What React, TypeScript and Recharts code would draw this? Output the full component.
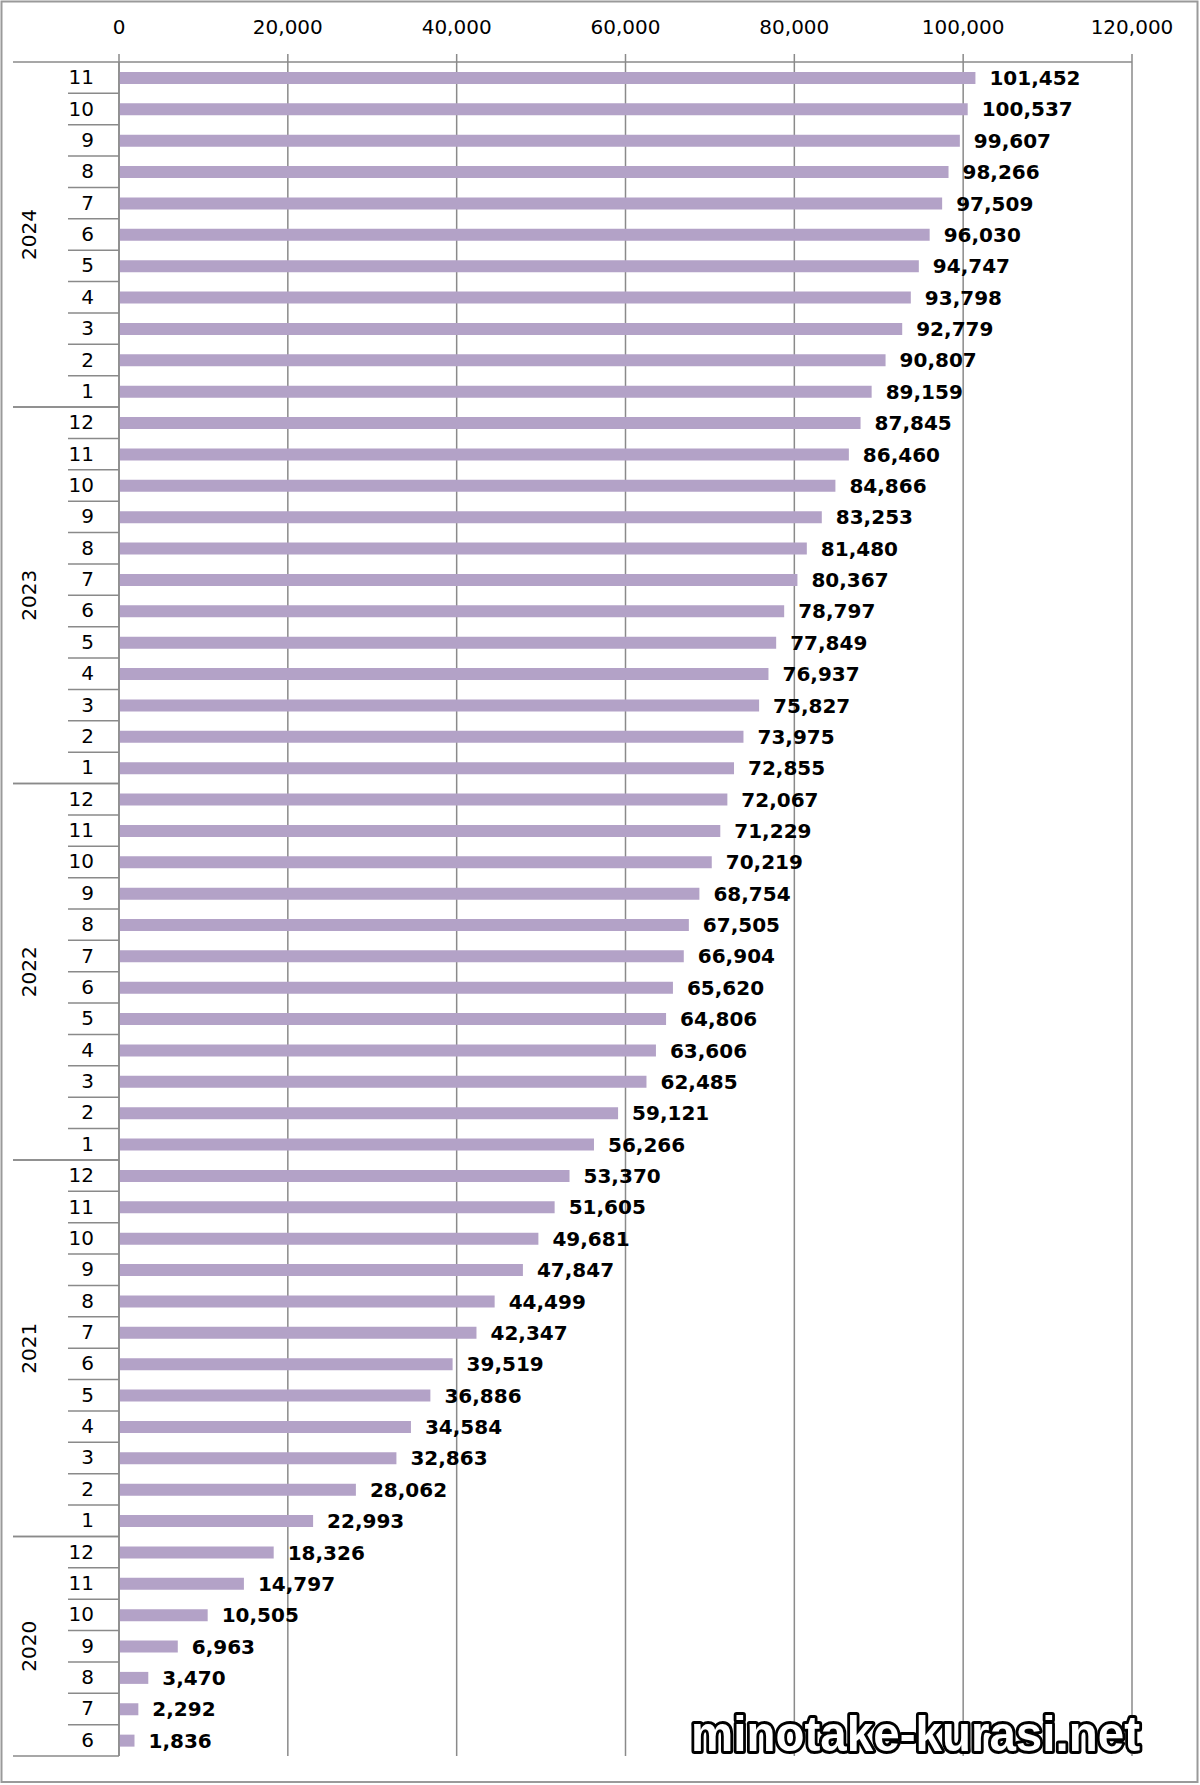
import React from 'react';
import { BarChart, Bar, XAxis, YAxis, CartesianGrid, LabelList } from 'recharts';

// ---- data ----
const years = [2020, 2021, 2022, 2023, 2024];
const firstMonths = [6, 1, 1, 1, 1];
const values2020 = [1836, 2292, 3470, 6963, 10505, 14797, 18326];
const values2021 = [22993, 28062, 32863, 34584, 36886, 39519, 42347, 44499, 47847, 49681, 51605, 53370];
const values2022 = [56266, 59121, 62485, 63606, 64806, 65620, 66904, 67505, 68754, 70219, 71229, 72067];
const values2023 = [72855, 73975, 75827, 76937, 77849, 78797, 80367, 81480, 83253, 84866, 86460, 87845];
const values2024 = [89159, 90807, 92779, 93798, 94747, 96030, 97509, 98266, 99607, 100537, 101452];
const valuesByYear = [values2020, values2021, values2022, values2023, values2024];
const valueTicks = [0, 20000, 40000, 60000, 80000, 100000, 120000];
const watermark = 'minotake-kurasi.net';

type Row = {
  key: string;
  year: number;
  month: number;
  value: number;
  groupSize: number;
  groupTop: boolean;
  groupBottom: boolean;
};

const chrono: Row[] = [];
years.forEach((y, yi) => {
  valuesByYear[yi].forEach((v, mi) => {
    chrono.push({
      key: `${y}-${firstMonths[yi] + mi}`,
      year: y,
      month: firstMonths[yi] + mi,
      value: v,
      groupSize: valuesByYear[yi].length,
      groupTop: false,
      groupBottom: false,
    });
  });
});
const rows: Row[] = chrono.slice().reverse();
rows.forEach((r, i) => {
  r.groupTop = i === 0 || rows[i - 1].year !== r.year;
  r.groupBottom = i === rows.length - 1 || rows[i + 1].year !== r.year;
});
const rowByKey = new Map(rows.map((r) => [r.key, r]));

// ---- layout ----
const W = 1200;
const H = 1785;
const PLOT_LEFT = 119;
const PLOT_RIGHT = 1132;
const PLOT_TOP = 62;
const PLOT_BOTTOM = 1756;
const BAND = (PLOT_BOTTOM - PLOT_TOP) / rows.length;
const YEAR_LINE_LEFT = 13;
const MONTH_LINE_LEFT = 68;
const MONTH_TEXT_RIGHT = 94;
const YEAR_TEXT_X = 29;
const FONT = "'DejaVu Sans', Verdana, sans-serif";
const AXIS_GRAY = '#8a8a8a';
const BAR_COLOR = '#B3A2C7';

const CategoryTick = (props: any) => {
  const { y, payload } = props;
  const r = rowByKey.get(payload.value);
  if (!r) return null;
  const top = y - BAND / 2;
  const bottom = y + BAND / 2;
  return (
    <g>
      <text
        x={MONTH_TEXT_RIGHT}
        y={y + 6.5}
        textAnchor="end"
        fontSize={20}
        fontFamily={FONT}
        fill="#000"
      >
        {r.month}
      </text>
      {r.groupTop && (
        <line x1={YEAR_LINE_LEFT} x2={PLOT_LEFT} y1={top} y2={top} stroke={AXIS_GRAY} strokeWidth={1.5} />
      )}
      {r.groupTop && (
        <text
          transform={`translate(${YEAR_TEXT_X}, ${top + (r.groupSize * BAND) / 2}) rotate(-90)`}
          textAnchor="middle"
          dy={7}
          fontSize={20}
          fontFamily={FONT}
          fill="#000"
        >
          {r.year}
        </text>
      )}
      <line
        x1={r.groupBottom ? YEAR_LINE_LEFT : MONTH_LINE_LEFT}
        x2={PLOT_LEFT}
        y1={bottom}
        y2={bottom}
        stroke={AXIS_GRAY}
        strokeWidth={1.5}
      />
    </g>
  );
};

const fmt = (v: any) => Number(v).toLocaleString('en-US');

export default function App() {
  return (
    <div style={{ position: 'absolute', left: 0, top: 0, width: W, height: H, background: '#fff' }}>
      <BarChart
        width={W}
        height={H}
        data={rows}
        layout="vertical"
        margin={{ top: 0, right: W - PLOT_RIGHT, bottom: H - PLOT_BOTTOM, left: 0 }}
        style={{ fontFamily: FONT }}
      >
        <CartesianGrid horizontal={false} vertical stroke={AXIS_GRAY} strokeWidth={1.5} />
        <XAxis
          type="number"
          orientation="top"
          domain={[0, 120000]}
          ticks={valueTicks}
          interval={0}
          height={PLOT_TOP}
          tickSize={8}
          tickMargin={20}
          tickFormatter={fmt}
          axisLine={{ stroke: AXIS_GRAY, strokeWidth: 1.5 }}
          tickLine={{ stroke: AXIS_GRAY, strokeWidth: 1.5 }}
          tick={{ fill: '#000', fontSize: 20, fontFamily: FONT }}
        />
        <YAxis
          type="category"
          dataKey="key"
          width={PLOT_LEFT}
          interval={0}
          axisLine={{ stroke: AXIS_GRAY, strokeWidth: 1.5 }}
          tickLine={false}
          tick={<CategoryTick />}
        />
        <Bar dataKey="value" fill={BAR_COLOR} barSize={12} isAnimationActive={false}>
          <LabelList
            dataKey="value"
            position="right"
            offset={14}
            formatter={fmt}
            fill="#000"
            style={{ fontSize: 20, fontWeight: 'bold', fontFamily: FONT, fill: '#000' }}
          />
        </Bar>
      </BarChart>
      <svg
        width={W}
        height={H}
        style={{ position: 'absolute', left: 0, top: 0, pointerEvents: 'none' }}
      >
        <rect x={1.5} y={1.5} width={1196} height={1780.5} fill="none" stroke="#9a9a9a" strokeWidth={2} />
        <text
          x={691}
          y={1751}
          textLength={449}
          lengthAdjust="spacingAndGlyphs"
          fontSize={50}
          fontWeight="bold"
          fontFamily="'Liberation Sans', Arial, sans-serif"
          fill="#fff"
          stroke="#000"
          strokeWidth={6}
          strokeLinejoin="round"
          paintOrder="stroke"
        >
          {watermark}
        </text>
      </svg>
    </div>
  );
}
